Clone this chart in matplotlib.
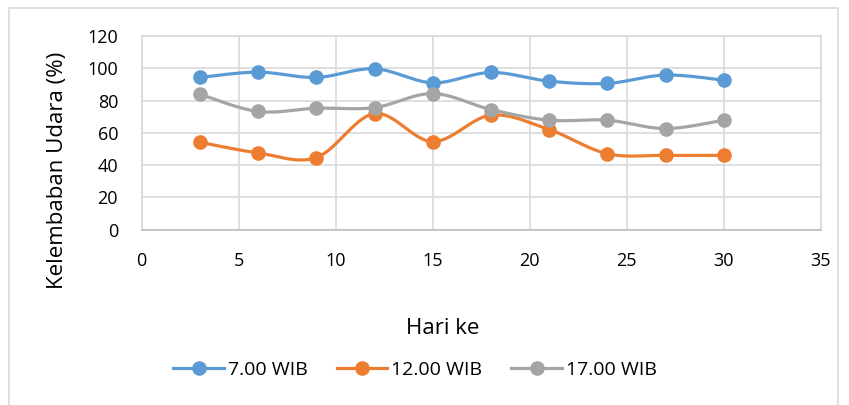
import numpy as np
import matplotlib.pyplot as plt
from matplotlib.patches import Rectangle

plt.rcParams['font.family'] = ['Open Sans', 'DejaVu Sans']

hari = [3, 6, 9, 12, 15, 18, 21, 24, 27, 30]
jam_07 = [94.3, 97.6, 94.3, 99.7, 91.0, 97.4, 92.0, 90.6, 95.8, 92.6]
jam_12 = [54.1, 47.5, 44.6, 71.9, 54.5, 70.9, 62.0, 47.0, 46.0, 46.0]
jam_17 = [83.9, 73.2, 75.2, 75.6, 84.3, 74.4, 67.8, 67.8, 62.6, 67.8]
labels = ['7.00 WIB', '12.00 WIB', '17.00 WIB']
colors = ['#5B9BD5', '#ED7D31', '#A5A5A5']


def smooth(x, y, n=30):
    # Excel-style smoothed line: Bezier through points, Catmull-Rom tangents
    x = np.asarray(x, float)
    y = np.asarray(y, float)
    px = np.concatenate([[x[0]], x, [x[-1]]])
    py = np.concatenate([[y[0]], y, [y[-1]]])
    t = np.linspace(0, 1, n)[:, None]
    xs, ys = [], []
    for i in range(1, len(px) - 2):
        p0 = np.array([px[i], py[i]])
        p3 = np.array([px[i + 1], py[i + 1]])
        c1 = p0 + (np.array([px[i + 1], py[i + 1]]) - np.array([px[i - 1], py[i - 1]])) / 6
        c2 = p3 - (np.array([px[i + 2], py[i + 2]]) - np.array([px[i], py[i]])) / 6
        pts = ((1 - t) ** 3) * p0 + 3 * ((1 - t) ** 2) * t * c1 + 3 * (1 - t) * t ** 2 * c2 + t ** 3 * p3
        xs.append(pts[:, 0])
        ys.append(pts[:, 1])
    return np.concatenate(xs), np.concatenate(ys)


fig = plt.figure(figsize=(8.49, 4.05), dpi=100)
ax = fig.add_axes([0.1669, 0.4333, 0.7998, 0.4778])

for vals, lab, col in zip([jam_07, jam_12, jam_17], labels, colors):
    sx, sy = smooth(hari, vals)
    ax.plot(sx, sy, color=col, lw=2.3, solid_capstyle='round', zorder=3)
    ax.plot(hari, vals, 'o', color=col, ms=9.5, zorder=4)
    ax.plot([], [], color=col, lw=2.3, marker='o', ms=9.5, label=lab)

ax.set_xlim(0, 35)
ax.set_ylim(0, 120)
ax.set_xticks(range(0, 36, 5))
ax.set_yticks(range(0, 121, 20))
ax.grid(True, color='#D9D9D9', lw=1.2)
ax.set_axisbelow(True)
for s in ax.spines.values():
    s.set_color('#D9D9D9')
    s.set_linewidth(1.2)
ax.spines['bottom'].set_color('#BFBFBF')
ax.tick_params(length=0, labelsize=13, colors='black')
ax.tick_params(axis='x', pad=16)
ax.tick_params(axis='y', pad=17)

fig.text(57 / 849, 1 - 170 / 405, 'Kelembaban Udara (%)', fontsize=16, rotation=90,
         ha='center', va='center')
fig.text(443 / 849, 1 - 329 / 405, 'Hari ke', fontsize=16, ha='center', va='center')

fig.legend(loc='center', bbox_to_anchor=(415 / 849, 1 - 370 / 405), ncol=3, frameon=False,
           fontsize=14, handlelength=2.6, handletextpad=0.2, columnspacing=1.5)

fig.patches.append(Rectangle((8.5 / 849, -0.1), (838 - 8.5) / 849, 1.1 - 7.5 / 405,
                             transform=fig.transFigure, fill=False, edgecolor='#D9D9D9', lw=1.2))

fig.savefig('out.png', dpi=100)
